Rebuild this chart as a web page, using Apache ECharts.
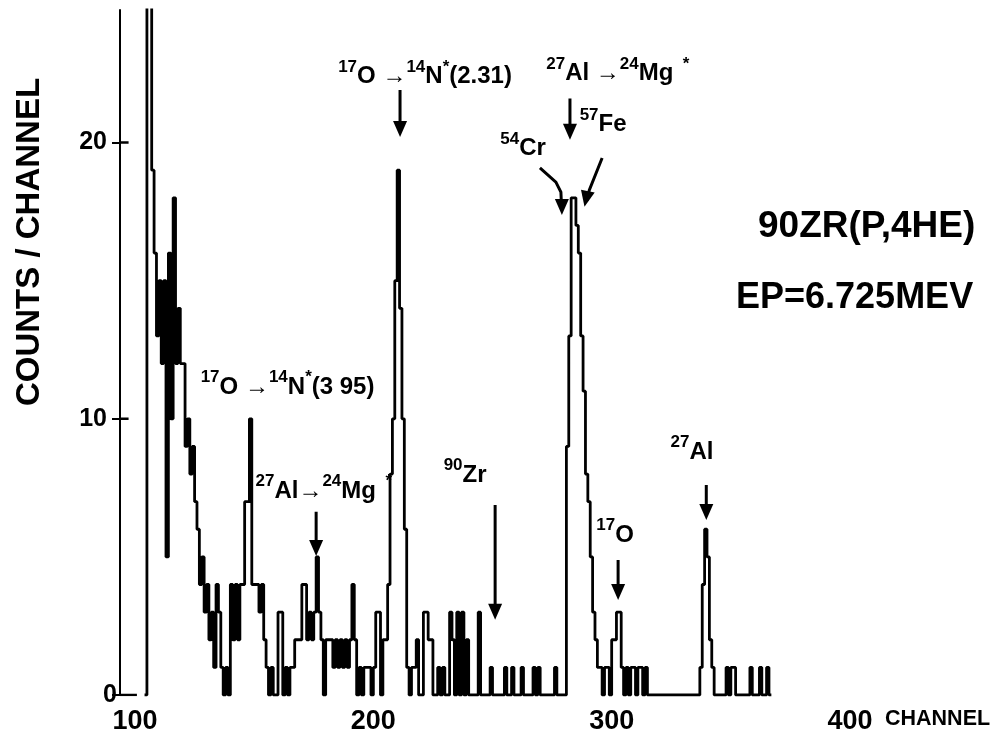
<!DOCTYPE html>
<html>
<head>
<meta charset="utf-8">
<script src="https://cdn.jsdelivr.net/npm/echarts@6/dist/echarts.min.js"></script>
<style>
html,body{margin:0;padding:0;background:#fff;}
#chart{width:996px;height:746px;}
</style>
</head>
<body>
<div id="chart"></div>
<script>
// ---- data (counts per channel) ----
const firstChannel = 104;
const counts = [
  0, 27, 27, 19, 16, 13, 15, 12, 15, 5,      // 104-113
  16, 10, 18, 12, 14, 12, 12, 9, 10, 8,      // 114-123
  9, 7, 6, 4, 5, 3, 4, 2, 3, 1,              // 124-133
  4, 3, 1, 0, 1, 0, 4, 2, 4, 2,              // 134-143
  4, 4, 7, 7, 10, 4, 4, 4, 3, 4,             // 144-153
  2, 1, 0, 1, 0, 0, 3, 3, 0, 1,              // 154-163
  0, 1, 1, 2, 2, 2, 4, 4, 2, 3,              // 164-173
  2, 3, 5, 3, 2, 0, 2, 2, 2, 1,              // 174-183
  2, 1, 2, 1, 2, 1, 2, 4, 2, 0,              // 184-193
  1, 0, 1, 1, 1, 0, 1, 3, 3, 0,              // 194-203
  2, 2, 4, 8, 10, 15, 19, 14, 10, 6,         // 204-213
  1, 0, 1, 1, 2, 0, 0, 3, 3, 2,              // 214-223
  2, 0, 0, 1, 0, 1, 0, 0, 3, 2,              // 224-233
  0, 3, 0, 3, 0, 2, 0, 0, 0, 0,              // 234-243
  3, 0, 0, 0, 0, 1, 0, 0, 0, 0,              // 244-253
  0, 1, 0, 0, 1, 0, 0, 0, 1, 0,              // 254-263
  0, 0, 0, 1, 0, 1, 0, 0, 0, 0,              // 264-273
  0, 0, 1, 0, 0, 0, 0, 9, 13, 18,            // 274-283
  18, 17, 16, 13, 11, 8, 7, 5, 3, 2,         // 284-293
  1, 1, 0, 1, 1, 0, 2, 2, 3, 3,              // 294-303
  1, 0, 1, 0, 1, 1, 0, 1, 1, 0,              // 304-313
  1, 0, 0, 0, 0, 0, 0, 0, 0, 0,              // 314-323
  0, 0, 0, 0, 0, 0, 0, 0, 0, 0,              // 324-333
  0, 0, 0, 1, 4, 6, 5, 2, 1, 0,              // 334-343
  0, 0, 0, 0, 1, 0, 1, 1, 0, 0,              // 344-353
  0, 0, 0, 0, 1, 0, 0, 0, 1, 0,              // 354-363
  0, 1, 0                                    // 364-366
];
const xTicks = [100, 200, 300, 400];
const yTicks = [0, 10, 20];

// annotation texts and their anchor points (channel, counts)
const noteTexts = [
  '{s|17}{b|O →}{s|14}{b|N}{s|*}{b|(2.31)}',
  '{s|27}{b|Al →}{s|24}{b|Mg}{s|  *}',
  '{s|57}{b|Fe}',
  '{s|54}{b|Cr}',
  '{s|17}{b|O →}{s|14}{b|N}{s|*}{b|(3 95)}',
  '{s|27}{b|Al→}{s|24}{b|Mg}{s|  *}',
  '{s|90}{b|Zr}',
  '{s|17}{b|O}',
  '{s|27}{b|Al}'
];
const noteChannels = [221.7, 302.6, 296.4, 262.8, 164.0, 179.2, 238.5, 301.4, 333.7];
const noteCounts   = [22.5, 22.6, 20.75, 19.9, 11.26, 7.49, 8.07, 5.9, 8.9];

// arrow shafts: polylines in (channel, counts); heads at the tips
const arrowPaths = [
  [[211.2, 21.9], [211.2, 20.4]],
  [[282.5, 21.6], [282.5, 20.3]],
  [[269.9, 19.08], [276.6, 18.57], [278.7, 18.21], [279.0, 17.6]],
  [[296.0, 19.44], [290.6, 18.28], [289.6, 17.9]],
  [[176.0, 6.63], [176.0, 5.2]],
  [[251.1, 6.88], [251.1, 2.9]],
  [[302.7, 4.89], [302.7, 3.6]],
  [[339.7, 7.6], [339.7, 6.5]]
];
const arrowTips = [
  [211.2, 20.2], [282.5, 20.1], [279.1, 17.38], [289.3, 17.67],
  [176.0, 5.03], [251.1, 2.72], [302.7, 3.44], [339.7, 6.34]
];
const arrowTurn = [180, 180, 180, 168, 180, 180, 180, 180];

const FONT = '"Liberation Sans", Arial, sans-serif';

const histData = counts.map((v, i) => [firstChannel + i, v]);
histData.push([firstChannel + counts.length, 0]);

const chart = echarts.init(document.getElementById('chart'), null, {renderer: 'canvas'});

const richStyles = {
  b: {fontSize: 24, fontWeight: 'bold', fontFamily: FONT, color: '#000', lineHeight: 30, verticalAlign: 'bottom'},
  s: {fontSize: 17, fontWeight: 'bold', fontFamily: FONT, color: '#000', lineHeight: 18, verticalAlign: 'top'}
};

const yRich = {
  p: {fontSize: 25, fontWeight: 'bold', fontFamily: FONT, color: '#000', padding: [0, 10, 0, 0]},
  z: {fontSize: 25, fontWeight: 'bold', fontFamily: FONT, color: '#000', padding: [0, 0, 0, 0]}
};

const option = {
  animation: false,
  backgroundColor: '#ffffff',
  title: [
    {text: '90ZR(P,4HE)', left: 758, top: 208, padding: 0,
     textStyle: {fontSize: 37, fontWeight: 'bold', fontFamily: FONT, color: '#000'}},
    {text: 'EP=6.725MEV', left: 736, top: 280, padding: 0,
     textStyle: {fontSize: 36, fontWeight: 'bold', fontFamily: FONT, color: '#000'}},
    {text: 'CHANNEL', left: 885, top: 708, padding: 0,
     textStyle: {fontSize: 21.5, fontWeight: 'bold', fontFamily: FONT, color: '#000'}}
  ],
  graphic: [
    {type: 'text', x: 30, y: 242, rotation: Math.PI / 2,
     style: {text: 'COUNTS / CHANNEL', fill: '#000', font: 'bold 33px ' + FONT,
             align: 'center', verticalAlign: 'middle'}}
  ],
  grid: {left: 120, right: 146, top: 10, bottom: 51},
  xAxis: {
    type: 'value', min: 93.7, max: 400,
    axisLine: {show: false}, axisTick: {show: false}, splitLine: {show: false},
    axisLabel: {customValues: xTicks, fontSize: 27, fontWeight: 'bold', fontFamily: FONT,
                color: '#000', margin: 13}
  },
  yAxis: {
    type: 'value', min: 0, max: 24.8, position: 'left',
    axisLine: {show: true, lineStyle: {color: '#000', width: 2}},
    axisTick: {show: true, customValues: yTicks, length: 8, lineStyle: {color: '#000', width: 2}},
    axisLabel: {customValues: yTicks, margin: 3, rich: yRich,
                formatter: v => (v === 0 ? '{z|' + v + '}' : '{p|' + v + '}')},
    splitLine: {show: false}
  },
  series: [
    {
      name: 'counts', type: 'line', step: 'end', data: histData,
      symbol: 'none', clip: true,
      lineStyle: {color: '#000', width: 2.8}
    },
    {
      name: 'arrows', type: 'lines', coordinateSystem: 'cartesian2d', polyline: true,
      symbol: ['none', 'none'],
      lineStyle: {color: '#000', width: 3, opacity: 1},
      data: arrowPaths.map(p => ({coords: p}))
    },
    {
      name: 'axis marks', type: 'lines', coordinateSystem: 'cartesian2d', polyline: true,
      symbol: ['none', 'none'],
      lineStyle: {color: '#000', width: 2.5, opacity: 1},
      data: [
        {coords: [[93.7, 0], [100.8, 0]]},
        {coords: [[93.7, 10], [97.3, 10]]},
        {coords: [[93.7, 20], [97.3, 20]]}
      ]
    },
    {
      name: 'arrow heads', type: 'scatter', symbol: 'triangle',
      symbolSize: [14, 16], symbolOffset: [0, -8],
      itemStyle: {color: '#000', opacity: 1},
      silent: true,
      data: arrowTips.map((p, i) => ({value: p, symbolRotate: arrowTurn[i]}))
    },
    {
      name: 'notes', type: 'scatter', symbol: 'circle', symbolSize: 0,
      itemStyle: {color: '#fff', opacity: 1},
      silent: true,
      label: {show: true, position: 'inside', align: 'center', verticalAlign: 'middle',
              color: '#000', opacity: 1, rich: richStyles},
      data: noteTexts.map((t, i) => ({
        value: [noteChannels[i], noteCounts[i]],
        label: {formatter: t}
      }))
    }
  ]
};
chart.setOption(option);
</script>
</body>
</html>
